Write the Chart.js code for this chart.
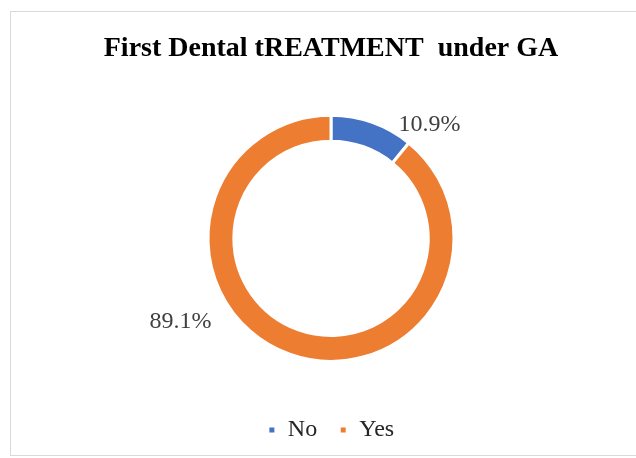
<!DOCTYPE html>
<html>
<head>
<meta charset="utf-8">
<script src="https://cdn.jsdelivr.net/npm/chart.js@4"></script>
<style>
  html, body { margin: 0; padding: 0; background: #fff; }
  #wrap { position: relative; width: 636px; height: 458px; overflow: hidden; }
  #frame { position: absolute; left: 10px; top: 11px; width: 640px; height: 445px;
           border: 1px solid #d9d9d9; box-sizing: border-box; }
  canvas { position: absolute; left: 0; top: 0; }
</style>
</head>
<body>
<div id="wrap">
  <div id="frame"></div>
  <canvas id="chart" width="636" height="458"></canvas>
</div>
<script>
// data
const categories = ['No', 'Yes'];
const percentages = [10.9, 89.1];
const sliceColors = ['#4472C4', '#ED7D31'];
// where the outside labels sit (degrees clockwise from 12 o'clock, distance from ring)
const labelAngles = [41, 241];
const labelGaps = [27, 49];

// draws "xx.x%" next to each slice
const outsideLabels = {
  id: 'outsideLabels',
  afterDatasetsDraw(chart) {
    const { ctx } = chart;
    const meta = chart.getDatasetMeta(0);
    ctx.save();
    ctx.font = '24px "Liberation Serif", "Times New Roman", serif';
    ctx.fillStyle = '#404040';
    ctx.textAlign = 'center';
    ctx.textBaseline = 'middle';
    meta.data.forEach((arc, i) => {
      const a = (labelAngles[i] - 90) * Math.PI / 180;
      const r = arc.outerRadius + labelGaps[i];
      const x = arc.x + Math.cos(a) * r;
      const y = arc.y + Math.sin(a) * r;
      ctx.fillText(percentages[i].toFixed(1) + '%', x, y);
    });
    ctx.restore();
  }
};

new Chart(document.getElementById('chart').getContext('2d'), {
  type: 'doughnut',
  data: {
    labels: categories,
    datasets: [{
      data: percentages,
      backgroundColor: sliceColors,
      borderColor: '#ffffff',
      borderWidth: 3,
      radius: 123,
      cutout: '79%'
    }]
  },
  options: {
    responsive: false,
    animation: false,
    layout: { padding: { top: 0, bottom: 6, left: 26, right: 0 } },
    plugins: {
      title: {
        display: true,
        text: 'First Dental tREATMENT  under GA',
        color: '#000000',
        font: { family: '"Liberation Serif", "Times New Roman", serif', size: 28, weight: 'bold' },
        padding: { top: 32, bottom: 15 }
      },
      legend: {
        display: true,
        position: 'bottom',
        labels: {
          boxWidth: 8,
          boxHeight: 8,
          padding: 22,
          color: '#262626',
          font: { family: '"Liberation Serif", "Times New Roman", serif', size: 24 }
        }
      },
      tooltip: { enabled: false }
    }
  },
  plugins: [outsideLabels]
});
</script>
</body>
</html>
